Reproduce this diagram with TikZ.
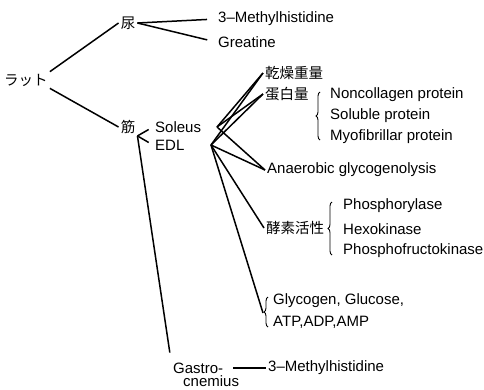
\documentclass[tikz,border=0pt]{standalone}
\usepackage{fontspec}
\setmainfont{Liberation Sans}
\newfontfamily\jpfont{Noto Sans CJK JP}
\usetikzlibrary{decorations.pathreplacing}

\begin{document}
\begin{tikzpicture}[x=1pt,y=-1pt,
        lbl/.style={anchor=west,inner sep=2pt,font=\fontsize{15}{17}\selectfont},
        jlbl/.style={inner sep=2pt,font=\jpfont\fontsize{14.5}{17}\selectfont},
        ln/.style={draw=black,line width=1.5pt},
        brc/.style={draw=black,line width=0.9pt,decorate,decoration={brace,amplitude=4pt}}]
        \useasboundingbox (0,0) rectangle (484,389);
        \node[jlbl,anchor=west] (rat) at (2,80) {ラット};
        \node[jlbl] (nyo) at (128,23) {尿};
        \node[jlbl] (kin) at (128,127) {筋};
        \node[lbl] (mh1) at (216,19) {3--Methylhistidine};
        \node[lbl] (cre) at (216,42) {Greatine};
        \node[lbl] (sol) at (153,127) {Soleus};
        \node[lbl] (edl) at (153,145) {EDL};
        \coordinate (solp) at (217,127);
        \coordinate (edlp) at (211,145);
        \node[jlbl,anchor=west] (kan) at (263,73) {乾燥重量};
        \node[jlbl,anchor=west] (tan) at (263,94) {蛋白量};
        \node[lbl] (nonc) at (328,95) {Noncollagen protein};
        \node[lbl] (sob) at (328,116) {Soluble protein};
        \node[lbl] (myo) at (328,137) {Myofibrillar protein};
        \node[lbl] (ana) at (265,170) {Anaerobic glycogenolysis};
        \node[jlbl,anchor=west] (koso) at (264,228) {酵素活性};
        \node[lbl] (pho) at (341,206) {Phosphorylase};
        \node[lbl] (hex) at (341,229) {Hexokinase};
        \node[lbl] (pfk) at (341,251) {Phosphofructokinase};
        \node[lbl] (gly) at (271,301) {Glycogen, Glucose,};
        \node[lbl] (atp) at (271,322) {ATP,ADP,AMP};
        \coordinate (glytip) at (263,313);
        \node[lbl] (gas) at (171,368) {Gastro-};
        \node[lbl] (cnem) at (181,381) {cnemius};
        \node[lbl] (mh2) at (266,368) {3--Methylhistidine};
        \draw[ln] (rat.north east) -- (nyo.west);
        \draw[ln] (rat.south east) -- (kin.west);
        \draw[ln,shorten >=9pt] (nyo.east) -- (mh1.west);
        \draw[ln,shorten >=9pt] (nyo.east) -- (cre.west);
        \draw[ln,shorten >=5pt] (kin.south east) -- (sol.west);
        \draw[ln,shorten >=5pt] (kin.south east) -- (edl.west);
        \draw[ln,shorten >=8pt] (kin.south east) -- (gas.north west);
        \draw[ln] (solp) -- (kan.west);
        \draw[ln] (solp) -- (tan.west);
        \draw[ln] (solp) -- (ana.west);
        \draw[ln] (edlp) -- (kan.west);
        \draw[ln] (edlp) -- (tan.west);
        \draw[ln] (edlp) -- (ana.west);
        \draw[ln] (edlp) -- (koso.west);
        \draw[ln] (edlp) -- (glytip);
        \draw[ln,shorten <=8pt] (gas.east) -- (mh2.west);
        \draw[brc] ([xshift=-8pt,yshift=-3pt]myo.west) -- ([xshift=-8pt,yshift=3pt]nonc.west);
        \draw[brc] ([xshift=-9pt,yshift=-4pt]pfk.west) -- ([xshift=-9pt,yshift=4pt]pho.west);
        \draw[brc] ([xshift=-3pt,yshift=-5pt]atp.west) -- ([xshift=-3pt,yshift=4pt]gly.west);
      \end{tikzpicture}
\end{document}
